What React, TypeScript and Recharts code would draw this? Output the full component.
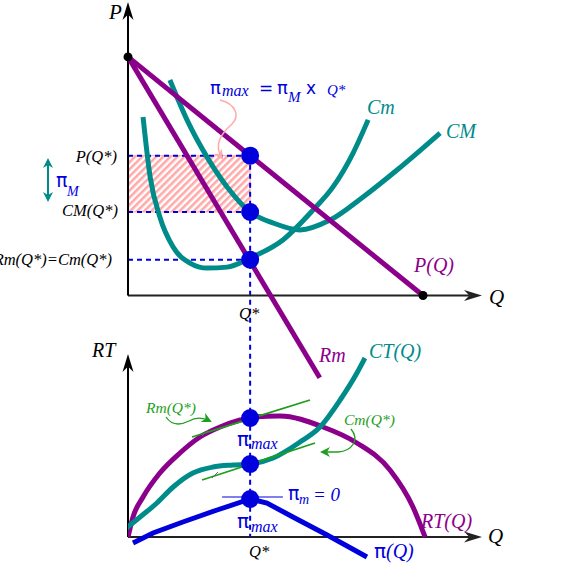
import React from 'react';
import { ComposedChart, Line, XAxis, YAxis, ReferenceLine, ReferenceArea, ReferenceDot } from 'recharts';

// ---------- data (top panel: price P against quantity Q) ----------
const Q_STAR = 4.14;
const P_STAR = 5.86;
const CM_STAR = 3.5;
const CMG_STAR = 1.5;

const demand = [
  { q: 0, p: 10 },
  { q: 10, p: 0 },
];
const marginalRevenue = [
  { q: 0, p: 10 },
  { q: 6.5, p: -3.45 },
];
const marginalCost = [
  { q: 0.51, p: 7.48 },
  { q: 0.75, p: 4.97 },
  { q: 1.08, p: 3.29 },
  { q: 1.53, p: 2.03 },
  { q: 2.1, p: 1.36 },
  { q: 2.68, p: 1.15 },
  { q: 3.36, p: 1.19 },
  { q: 4.14, p: 1.57 },
  { q: 5.25, p: 2.33 },
  { q: 6.27, p: 3.58 },
  { q: 6.95, p: 4.55 },
  { q: 7.63, p: 5.97 },
  { q: 8.14, p: 7.36 },
];
const averageCost = [
  { q: 1.42, p: 9.03 },
  { q: 2.0, p: 7.36 },
  { q: 2.68, p: 5.8 },
  { q: 3.36, p: 4.55 },
  { q: 4.14, p: 3.5 },
  { q: 4.92, p: 3.04 },
  { q: 5.83, p: 2.75 },
  { q: 6.85, p: 3.16 },
  { q: 7.97, p: 4.13 },
  { q: 9.12, p: 5.26 },
  { q: 10.58, p: 6.81 },
];
const priceLevels = [P_STAR, CM_STAR, CMG_STAR];

// ---------- data (bottom panel: totals against Q) ----------
const totalRevenue = [
  { q: 0, v: 0 },
  { q: 0.17, v: 4.0 },
  { q: 0.51, v: 8.0 },
  { q: 1.08, v: 12.8 },
  { q: 1.76, v: 16.8 },
  { q: 2.44, v: 20.0 },
  { q: 3.12, v: 22.0 },
  { q: 3.8, v: 23.4 },
  { q: 4.24, v: 24.0 },
  { q: 5.15, v: 24.2 },
  { q: 6.61, v: 22.0 },
  { q: 7.76, v: 18.8 },
  { q: 8.88, v: 13.4 },
  { q: 9.66, v: 6.0 },
  { q: 10.07, v: 0 },
];
const totalCost = [
  { q: -0.05, v: 1.8 },
  { q: 0.41, v: 4.0 },
  { q: 0.98, v: 6.8 },
  { q: 1.53, v: 10.0 },
  { q: 2.2, v: 12.8 },
  { q: 2.88, v: 14.0 },
  { q: 3.56, v: 14.4 },
  { q: 4.14, v: 14.6 },
  { q: 4.92, v: 15.8 },
  { q: 5.83, v: 19.0 },
  { q: 6.51, v: 22.0 },
  { q: 7.19, v: 27.4 },
  { q: 7.76, v: 32.8 },
  { q: 8.03, v: 35.8 },
];
const profit = [
  { q: 0.17, v: -1.2 },
  { q: 0.85, v: 0.8 },
  { q: 1.86, v: 3.0 },
  { q: 3.02, v: 5.4 },
  { q: 4.14, v: 7.6 },
  { q: 4.71, v: 6.8 },
  { q: 5.59, v: 4.0 },
  { q: 6.75, v: 0.4 },
  { q: 8.1, v: -4.0 },
];
const revenueTangent = [
  { q: 2.17, v: 20.0 },
  { q: 6.17, v: 27.4 },
];
const costTangent = [
  { q: 2.51, v: 11.4 },
  { q: 6.34, v: 18.8 },
];
const profitTangent = [
  { q: 3.19, v: 8.0 },
  { q: 5.25, v: 8.0 },
];
const bottomLevels = [23.8, 14.6, 7.6];

const PURPLE = '#8B008B';
const TEAL = '#008B8B';
const BLUE = '#0000DD';
const GREEN = '#1E9E1E';
const PINK = '#FFAAAA';
const SERIF = "'Liberation Serif', 'DejaVu Serif', serif";
const SANS = "'DejaVu Sans', 'Liberation Sans', sans-serif";

const arrowShape = (color: string, width: number) => (props: any) => {
  const { x1, y1, x2, y2 } = props;
  const ang = Math.atan2(y2 - y1, x2 - x1);
  const L = 18;
  const W = 5.5;
  const c = Math.cos(ang);
  const s = Math.sin(ang);
  const bx = x2 - L * c;
  const by = y2 - L * s;
  const nx = x2 - L * 0.7 * c;
  const ny = y2 - L * 0.7 * s;
  const pts = [
    [x2, y2],
    [bx - W * s, by + W * c],
    [nx, ny],
    [bx + W * s, by - W * c],
  ]
    .map((p) => p.join(','))
    .join(' ');
  return (
    <g>
      <line x1={x1} y1={y1} x2={nx} y2={ny} stroke={color} strokeWidth={width} />
      <polygon points={pts} fill={color} />
    </g>
  );
};

const curve = (data: any[], key: string, color: string, width: number, type: any = 'monotone') => (
  <Line
    data={data}
    dataKey={key}
    type={type}
    stroke={color}
    strokeWidth={width}
    dot={false}
    activeDot={false}
    isAnimationActive={false}
    strokeLinecap="butt"
  />
);

function TopPanel() {
  return (
    <ComposedChart width={581} height={569} margin={{ top: 2, right: 99, bottom: 11, left: 128 }}>
      <XAxis type="number" dataKey="q" domain={[0, 12]} hide allowDataOverflow />
      <YAxis type="number" domain={[-11, 12.3]} hide allowDataOverflow />
      <ReferenceArea
        x1={0}
        x2={Q_STAR}
        y1={CM_STAR}
        y2={P_STAR}
        fill="url(#hatch)"
        fillOpacity={1}
        stroke={PINK}
        strokeWidth={1}
        ifOverflow="visible"
      />
      {priceLevels.map((p) => (
        <ReferenceLine
          key={p}
          segment={[
            { x: 0, y: p },
            { x: Q_STAR, y: p },
          ]}
          stroke={BLUE}
          strokeWidth={2}
          strokeDasharray="5 4"
          ifOverflow="visible"
        />
      ))}
      <ReferenceLine
        segment={[
          { x: Q_STAR, y: P_STAR },
          { x: Q_STAR, y: -10.1 },
        ]}
        stroke={BLUE}
        strokeWidth={2}
        strokeDasharray="5 4"
        ifOverflow="visible"
      />
      <ReferenceLine
        segment={[
          { x: 0, y: 0 },
          { x: 12, y: 0 },
        ]}
        shape={arrowShape('#222', 2)}
        ifOverflow="visible"
      />
      <ReferenceLine
        segment={[
          { x: 0, y: 0 },
          { x: 0, y: 12.3 },
        ]}
        shape={arrowShape('#000', 2)}
        ifOverflow="visible"
      />
      {curve(averageCost, 'p', TEAL, 5)}
      {curve(marginalCost, 'p', TEAL, 5)}
      {curve(demand, 'p', PURPLE, 5, 'linear')}
      {curve(marginalRevenue, 'p', PURPLE, 5, 'linear')}
      <ReferenceDot x={0} y={10} r={4.5} fill="#000" stroke="none" ifOverflow="visible" />
      <ReferenceDot x={10} y={0} r={4.5} fill="#000" stroke="none" ifOverflow="visible" />
      {priceLevels.map((p) => (
        <ReferenceDot key={'d' + p} x={Q_STAR} y={p} r={9} fill={BLUE} stroke="none" ifOverflow="visible" />
      ))}
    </ComposedChart>
  );
}

function BottomPanel() {
  return (
    <ComposedChart width={581} height={569} margin={{ top: 352, right: 99, bottom: 2, left: 128 }}>
      <XAxis type="number" dataKey="q" domain={[0, 12]} hide allowDataOverflow />
      <YAxis type="number" domain={[-6, 37]} hide allowDataOverflow />
      <ReferenceLine
        segment={[
          { x: 0, y: 0 },
          { x: 12, y: 0 },
        ]}
        shape={arrowShape('#222', 2)}
        ifOverflow="visible"
      />
      <ReferenceLine
        segment={[
          { x: 0, y: 0 },
          { x: 0, y: 36.6 },
        ]}
        shape={arrowShape('#000', 2)}
        ifOverflow="visible"
      />
      {curve(totalRevenue, 'v', PURPLE, 5)}
      {curve(totalCost, 'v', TEAL, 5)}
      {curve(profit, 'v', BLUE, 5, 'linear')}
      {curve(revenueTangent, 'v', GREEN, 1.8, 'linear')}
      {curve(costTangent, 'v', GREEN, 1.8, 'linear')}
      {curve(profitTangent, 'v', BLUE, 1.2, 'linear')}
      {bottomLevels.map((v) => (
        <ReferenceDot key={'b' + v} x={Q_STAR} y={v} r={9} fill={BLUE} stroke="none" ifOverflow="visible" />
      ))}
    </ComposedChart>
  );
}

const T = (p: any) => {
  const { x, y, children, size = 15, color = '#000', italic = true, anchor = 'start', family = SERIF } = p;
  return (
    <text
      x={x}
      y={y}
      fontSize={size}
      fill={color}
      fontStyle={italic ? 'italic' : 'normal'}
      textAnchor={anchor}
      fontFamily={family}
    >
      {children}
    </text>
  );
};

function Overlay() {
  return (
    <svg width={581} height={569} style={{ position: 'absolute', left: 0, top: 0, pointerEvents: 'none' }}>
      <defs>
        <pattern id="hatch" width="5" height="5" patternUnits="userSpaceOnUse" patternTransform="rotate(45)">
          <rect x="0" y="0" width="2.6" height="5" fill={PINK} />
        </pattern>
        <marker id="pinkHead" markerWidth="10" markerHeight="10" refX="8" refY="5" orient="auto" markerUnits="userSpaceOnUse">
          <path d="M0,0 L10,5 L0,10 L3,5 Z" fill={PINK} />
        </marker>
        <marker id="greenHead" markerWidth="10" markerHeight="10" refX="8" refY="5" orient="auto" markerUnits="userSpaceOnUse">
          <path d="M0,0 L10,5 L0,10 L3,5 Z" fill={GREEN} />
        </marker>
        <marker id="tealHead" markerWidth="10" markerHeight="10" refX="8" refY="5" orient="auto-start-reverse" markerUnits="userSpaceOnUse">
          <path d="M0,0 L10,5 L0,10 L3,5 Z" fill={TEAL} />
        </marker>
      </defs>

      {/* top panel annotations */}
      <T x={109} y={19} size={21}>P</T>
      <T x={489} y={304} size={21}>Q</T>
      <T x={117} y={162} anchor="end" size={16.5}>P(Q*)</T>
      <T x={118} y={216} anchor="end" size={16.5}>CM(Q*)</T>
      <T x={112} y={265} anchor="end" size={16.5}>Rm(Q*)=Cm(Q*)</T>
      <line x1={48} y1={160} x2={48} y2={200} stroke={TEAL} strokeWidth={2} markerStart="url(#tealHead)" markerEnd="url(#tealHead)" />
      <T x={56} y={187} size={19} italic={false} color={BLUE} family={SANS}>π</T>
      <T x={67} y={196} size={14} color={BLUE}>M</T>

      <T x={210} y={94} size={18} italic={false} color={BLUE} family={SANS}>π</T>
      <T x={222} y={96} size={16} color={BLUE}>max</T>
      <T x={259} y={94} size={17} italic={false} color={BLUE} family={SANS}>=</T>
      <T x={277} y={94} size={18} italic={false} color={BLUE} family={SANS}>π</T>
      <T x={288} y={102} size={15} color={BLUE}>M</T>
      <T x={306} y={94} size={17} italic={false} color={BLUE} family={SANS}>x</T>
      <T x={327} y={95} size={15} color={BLUE}>Q*</T>
      <path
        d="M 220 100 C 236 104, 240 116, 232 124 C 222 133, 213 144, 222 158"
        fill="none"
        stroke={PINK}
        strokeWidth={1.5}
        markerEnd="url(#pinkHead)"
      />

      <T x={367} y={114} size={20} color={TEAL}>Cm</T>
      <T x={446} y={138} size={20} color={TEAL}>CM</T>
      <T x={414} y={272} size={20} color={PURPLE}>P(Q)</T>
      <T x={239} y={319} size={16.5}>Q*</T>
      <T x={319} y={362} size={20} color={PURPLE}>Rm</T>

      {/* bottom panel annotations */}
      <T x={92} y={357} size={20}>RT</T>
      <T x={488} y={543} size={21}>Q</T>
      <T x={249} y={557} size={16.5}>Q*</T>
      <T x={369} y={358} size={20} color={TEAL}>CT(Q)</T>
      <T x={146} y={413} size={15.5} color={GREEN}>Rm(Q*)</T>
      <path d="M 166 417 C 172 426, 181 425, 189 421 C 196 417, 204 418, 210 421" fill="none" stroke={GREEN} strokeWidth={1.3} markerEnd="url(#greenHead)" />
      <T x={344} y={425} size={15.5} color={GREEN}>Cm(Q*)</T>
      <path d="M 351 429 C 360 440, 352 451, 338 452 L 322 452" fill="none" stroke={GREEN} strokeWidth={1.3} markerEnd="url(#greenHead)" />
      <line x1={202} y1={436} x2={208} y2={430} stroke="#666" strokeWidth={1} />
      <line x1={212} y1={478} x2={218} y2={472} stroke="#666" strokeWidth={1} />

      <T x={237} y={446} size={20} italic={false} color={BLUE} family={SANS}>π</T>
      <T x={251} y={449} size={16} color={BLUE}>max</T>
      <T x={237} y={528} size={20} italic={false} color={BLUE} family={SANS}>π</T>
      <T x={251} y={532} size={16} color={BLUE}>max</T>
      <T x={288} y={500} size={19} italic={false} color={BLUE} family={SANS}>π</T>
      <T x={299} y={504} size={14} color={BLUE}>m</T>
      <T x={313} y={501} size={19} color={BLUE}>= 0</T>
      <T x={421} y={528} size={20} color={PURPLE}>RT(Q)</T>
      <T x={374} y={558} size={20} italic={false} color={BLUE} family={SANS}>π</T>
      <T x={386} y={558} size={20} color={BLUE}>(Q)</T>
    </svg>
  );
}

export default function App() {
  return (
    <div style={{ position: 'absolute', left: 0, top: 0, width: 581, height: 569, background: '#fff' }}>
      <div style={{ position: 'absolute', left: 0, top: 0 }}>
        <BottomPanel />
      </div>
      <div style={{ position: 'absolute', left: 0, top: 0 }}>
        <TopPanel />
      </div>
      <Overlay />
    </div>
  );
}
